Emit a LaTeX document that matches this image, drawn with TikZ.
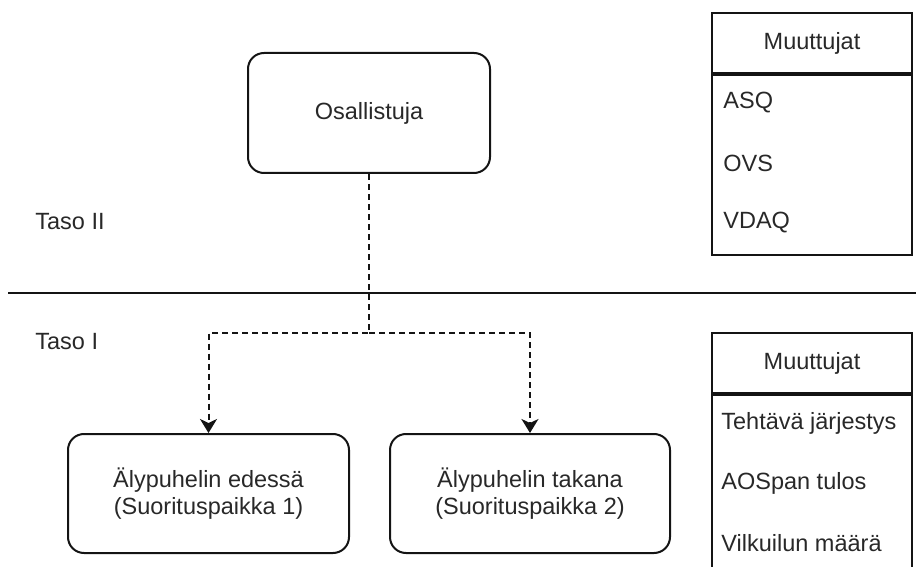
\documentclass[tikz,border=0pt]{standalone}
\usepackage{fontspec}
\setmainfont{Liberation Sans}
\usetikzlibrary{arrows.meta}
\definecolor{ink}{RGB}{40,40,40}
\definecolor{edge}{RGB}{20,20,20}
\begin{document}
\begin{tikzpicture}[
  x=0.5pt, y=-0.5pt,
  every node/.style={font=\fontsize{11.75pt}{13.5pt}\selectfont, text=ink, inner sep=0pt},
  roundbox/.style={draw=edge, line width=1pt, rounded corners=8pt, align=center},
  tablebox/.style={draw=edge, line width=1pt, minimum width=100pt},
  item/.style={anchor=west},
  link/.style={draw=edge, line width=1pt, dash pattern=on 3pt off 2pt,
    -{Stealth[length=7pt, width=8.5pt, inset=2pt]}},
]
\useasboundingbox (0,0) rectangle (916,567);
\clip (0,0) rectangle (916,567);

% level divider
\coordinate (divL) at (8,293);
\coordinate (divR) at (916,293);
\draw[draw=edge, line width=1pt] (divL) -- (divR);

\node[anchor=west] (taso2) at (35,222) {Taso II};
\node[anchor=west] (taso1) at (35,342) {Taso I};

% participant and the two conditions
\node[roundbox, minimum width=121pt, minimum height=60pt] (osal) at (369,113) {Osallistuja};
\node[roundbox, minimum width=140.5pt, minimum height=59.5pt] (front) at (208.5,493.5)
  {Älypuhelin edessä\\(Suorituspaikka 1)};
\node[roundbox, minimum width=140pt, minimum height=59.5pt] (back) at (530,493.5)
  {Älypuhelin takana\\(Suorituspaikka 2)};

\coordinate (split) at (369,333);
\draw[link] (osal.south) -- (split) -| (front.north);
\draw[link] (split) -| (back.north);

% level II variables
\node[tablebox, minimum height=30pt] (head2) at (812,43) {Muuttujat};
\node[tablebox, minimum height=90pt, anchor=north] (body2) at (head2.south) {};
\node[item] (asq) at (723,103) {ASQ};
\node[item] (ovs) at (723,163) {OVS};
\node[item] (vdaq) at (723,223) {VDAQ};

% level I variables
\node[tablebox, minimum height=30pt] (head1) at (812,363) {Muuttujat};
\node[tablebox, minimum height=91pt, anchor=north] (body1) at (head1.south) {};
\node[item] (order) at (721,423) {Tehtävä järjestys};
\node[item] (aospan) at (721,483) {AOSpan tulos};
\node[item] (glance) at (721,543) {Vilkuilun määrä};
\end{tikzpicture}
\end{document}
